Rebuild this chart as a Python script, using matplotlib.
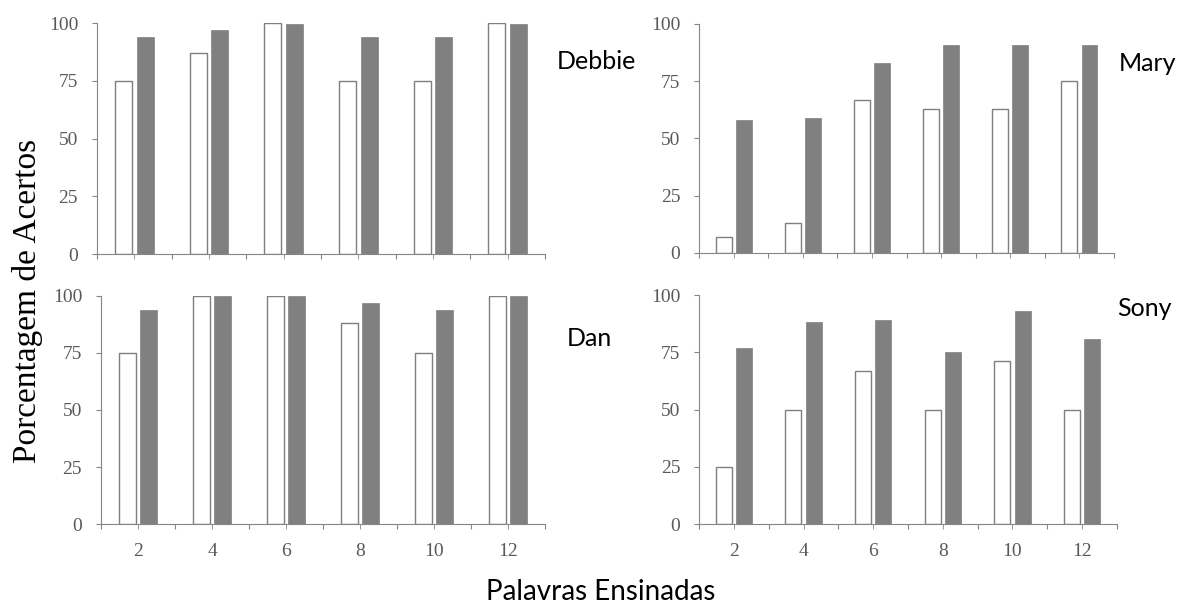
import numpy as np
import matplotlib
matplotlib.use('Agg')
import matplotlib.pyplot as plt

# Dados
palavras = ['2', '4', '6', '8', '10', '12']
nomes = ['Debbie', 'Mary', 'Dan', 'Sony']
branco = {
    'Debbie': [75, 87, 100, 75, 75, 100],
    'Mary': [7, 13, 67, 63, 63, 75],
    'Dan': [75, 100, 100, 88, 75, 100],
    'Sony': [25, 50, 67, 50, 71, 50],
}
cinza = {
    'Debbie': [94, 97, 99.6, 94, 94, 99.6],
    'Mary': [58, 59, 83, 91, 91, 91],
    'Dan': [94, 100, 100, 97, 94, 100],
    'Sony': [77, 88, 89, 75, 93, 81],
}

fig = plt.figure(figsize=(11.8, 6.07), dpi=100)

# posições dos painéis (left, bottom, width, height)
posicoes = {
    'Debbie': [0.0822, 0.5815, 0.3797, 0.3806],
    'Mary': [0.5924, 0.5832, 0.3517, 0.3773],
    'Dan': [0.0856, 0.1367, 0.3763, 0.3757],
    'Sony': [0.5924, 0.1367, 0.3542, 0.3773],
}
rotulos = {
    'Debbie': (0.472, 0.918),
    'Mary': (0.948, 0.914),
    'Dan': (0.480, 0.461),
    'Sony': (0.947, 0.511),
}

cor_eixo = '#868686'
cor_texto = '#595959'
x = np.arange(len(palavras))

for nome in nomes:
    ax = fig.add_axes(posicoes[nome])
    ax.bar(x - 0.145, branco[nome], width=0.23, color='white',
           edgecolor='#7f7f7f', linewidth=1.0)
    ax.bar(x + 0.145, cinza[nome], width=0.23, color='#808080',
           edgecolor='#808080', linewidth=0.5)
    ax.set_xlim(-0.5, len(palavras) - 0.5)
    ax.set_ylim(0, 100)
    ax.set_yticks([0, 25, 50, 75, 100])
    ax.set_xticks(np.arange(-0.5, len(palavras), 1.0))
    ax.set_xticklabels([])
    ax.set_xticks(x, minor=True)
    if nome in ('Dan', 'Sony'):
        ax.set_xticklabels(palavras, minor=True)
    for s in ['top', 'right']:
        ax.spines[s].set_visible(False)
    for s in ['left', 'bottom']:
        ax.spines[s].set_color(cor_eixo)
    ax.tick_params(axis='both', which='both', direction='out', length=3.6,
                   color=cor_eixo, labelcolor=cor_texto, labelsize=14, pad=10)
    for lab in ax.get_yticklabels() + ax.get_xticklabels(minor=True):
        lab.set_fontfamily('Liberation Serif')
    fig.text(rotulos[nome][0], rotulos[nome][1], nome, fontsize=18,
             family='Lato', ha='left', va='top')

fig.text(0.0237, 0.504, 'Porcentagem de Acertos', rotation=90, fontsize=24,
         family='Liberation Serif', ha='center', va='center')
fig.text(0.509, 0.0115, 'Palavras Ensinadas', fontsize=20, family='Lato',
         ha='center', va='baseline')

fig.savefig('out.png', dpi=100)
